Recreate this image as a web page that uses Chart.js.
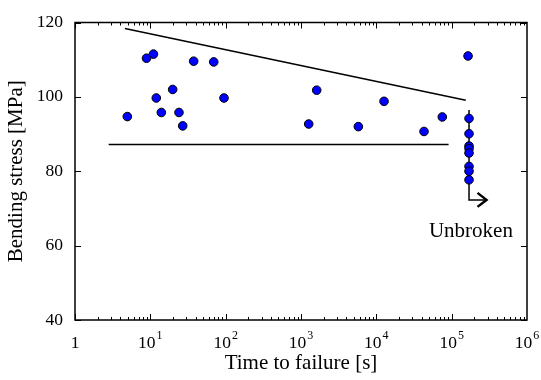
<!DOCTYPE html>
<html>
<head>
<meta charset="utf-8">
<script src="https://cdn.jsdelivr.net/npm/chart.js@4.4.1/dist/chart.umd.min.js"></script>
<style>
  html, body { margin: 0; padding: 0; background: #fff; }
  #wrap { width: 541px; height: 380px; position: relative; }
</style>
</head>
<body>
<div id="wrap"><canvas id="c"></canvas></div>
<script>
/* Bending stress vs time to failure, log time axis */

const X_TICKS = [1, 10, 100, 1e3, 1e4, 1e5, 1e6];
const X_EXP = [null, 1, 2, 3, 4, 5, 6];
const Y_TICKS = [40, 60, 80, 100, 120];

// broken specimens
const failTime = [4.95, 8.9, 11, 12, 14, 19.8, 24, 26.9, 37.6, 69.4, 95, 1265, 1615, 5770, 12650, 42950, 75100, 165000];
const failStress = [94.7, 110.4, 111.5, 99.7, 95.8, 102, 95.8, 92.2, 109.6, 109.4, 99.7, 92.7, 101.8, 92, 98.8, 90.7, 94.6, 111];

// unbroken (run-out) specimens
const runoutTime = [170000, 170000, 170000, 170000, 170000, 170000, 170000, 170000];
const runoutStress = [94.2, 90.1, 86.8, 86.1, 84.9, 81.3, 80, 77.7];

// guide lines
const upperLineT = [4.6, 154000];
const upperLineS = [118.4, 99.1];
const lowerLineT = [2.8, 91000];
const lowerLineS = [87.2, 87.2];
const runoutLineT = [170000, 170000, 290000];
const runoutLineS = [96.5, 72.3, 72.3];

const LABEL_T = 180000, LABEL_S = 62.3;

const FONT = "'Liberation Serif', 'DejaVu Serif', serif";
const TICK_PX = 17.5, TITLE_PX = 21;
const pts = (t, s) => t.map((v, i) => ({ x: v, y: s[i] }));

const frame = {
  id: 'frame',
  afterDatasetsDraw(chart) {
    const { ctx, chartArea: a, scales: { x, y } } = chart;
    ctx.save();
    ctx.strokeStyle = '#000';
    ctx.lineWidth = 1.5;
    ctx.strokeRect(a.left, a.top, a.right - a.left, a.bottom - a.top);
    ctx.lineWidth = 1;
    ctx.beginPath();
    // x ticks, major + minor, bottom and top, pointing in
    for (let d = 0; d < 6; d++) {
      for (let m = 1; m < 10; m++) {
        const px = Math.round(x.getPixelForValue(Math.pow(10, d) * m)) + 0.5;
        const len = m === 1 ? 6 : 3;
        ctx.moveTo(px, a.bottom); ctx.lineTo(px, a.bottom - len);
        ctx.moveTo(px, a.top); ctx.lineTo(px, a.top + len);
      }
    }
    Y_TICKS.forEach(v => {
      const py = Math.round(y.getPixelForValue(v)) + 0.5;
      ctx.moveTo(a.left, py); ctx.lineTo(a.left + 6, py);
      ctx.moveTo(a.right, py); ctx.lineTo(a.right - 6, py);
    });
    ctx.stroke();

    // x tick labels with exponents
    ctx.fillStyle = '#000';
    ctx.textBaseline = 'alphabetic';
    const base = a.bottom + 28;
    X_TICKS.forEach((v, i) => {
      const px = x.getPixelForValue(v);
      ctx.font = TICK_PX + 'px ' + FONT;
      if (X_EXP[i] === null) {
        ctx.textAlign = 'center';
        ctx.fillText('1', px, base);
        return;
      }
      const w1 = ctx.measureText('10').width;
      ctx.font = '12px ' + FONT;
      const w2 = ctx.measureText(String(X_EXP[i])).width;
      const left = px - (w1 + w2 + 1) / 2;
      ctx.textAlign = 'left';
      ctx.font = TICK_PX + 'px ' + FONT;
      ctx.fillText('10', left, base);
      ctx.font = '12px ' + FONT;
      ctx.fillText(String(X_EXP[i]), left + w1 + 1, base - 9);
    });

    // run-out arrow head + label
    const ex = x.getPixelForValue(runoutLineT[2]);
    const ey = y.getPixelForValue(runoutLineS[2]);
    ctx.lineWidth = 2.5;
    ctx.lineJoin = 'miter';
    ctx.beginPath();
    ctx.moveTo(ex - 9, ey - 7); ctx.lineTo(ex, ey); ctx.lineTo(ex - 9, ey + 7);
    ctx.stroke();
    ctx.font = TITLE_PX + 'px ' + FONT;
    ctx.textAlign = 'center';
    ctx.fillText('Unbroken', x.getPixelForValue(LABEL_T), y.getPixelForValue(LABEL_S));
    ctx.restore();
  }
};

const lineDs = (t, s) => ({
  type: 'line', data: pts(t, s), borderColor: '#000', borderWidth: 1.5,
  pointRadius: 0, fill: false, tension: 0, order: 2
});
const dotDs = (t, s) => ({
  type: 'scatter', data: pts(t, s), backgroundColor: '#0000ff', borderColor: '#000',
  borderWidth: 1, pointRadius: 4.3, order: 1
});

new Chart(document.getElementById('c'), {
  type: 'scatter',
  data: {
    datasets: [
      lineDs(upperLineT, upperLineS),
      lineDs(lowerLineT, lowerLineS),
      lineDs(runoutLineT, runoutLineS),
      dotDs(failTime, failStress),
      dotDs(runoutTime, runoutStress)
    ]
  },
  options: {
    responsive: true, maintainAspectRatio: false, animation: false,
    layout: { padding: { top: 20, right: 14, left: 0, bottom: 0 } },
    plugins: { legend: { display: false }, tooltip: { enabled: false } },
    scales: {
      x: {
        type: 'logarithmic', min: 1, max: 1e6,
        afterBuildTicks: s => { s.ticks = X_TICKS.map(v => ({ value: v })); },
        afterFit: s => { s.height = 60; },
        grid: { display: false, drawTicks: false }, border: { display: false },
        ticks: { display: false },
        title: { display: true, text: 'Time to failure [s]', color: '#000',
                 font: { family: FONT, size: TITLE_PX }, padding: { top: 0, bottom: 3.5 } }
      },
      y: {
        min: 40, max: 120,
        afterBuildTicks: s => { s.ticks = Y_TICKS.map(v => ({ value: v })); },
        afterFit: s => { s.width = 75; },
        grid: { display: false, drawTicks: false }, border: { display: false },
        ticks: { color: '#000', font: { family: FONT, size: TICK_PX }, padding: 12 },
        title: { display: true, text: 'Bending stress [MPa]', color: '#000',
                 font: { family: FONT, size: TITLE_PX }, padding: { top: 4, bottom: 0 } }
      }
    }
  },
  plugins: [frame]
});
</script>
</body>
</html>
